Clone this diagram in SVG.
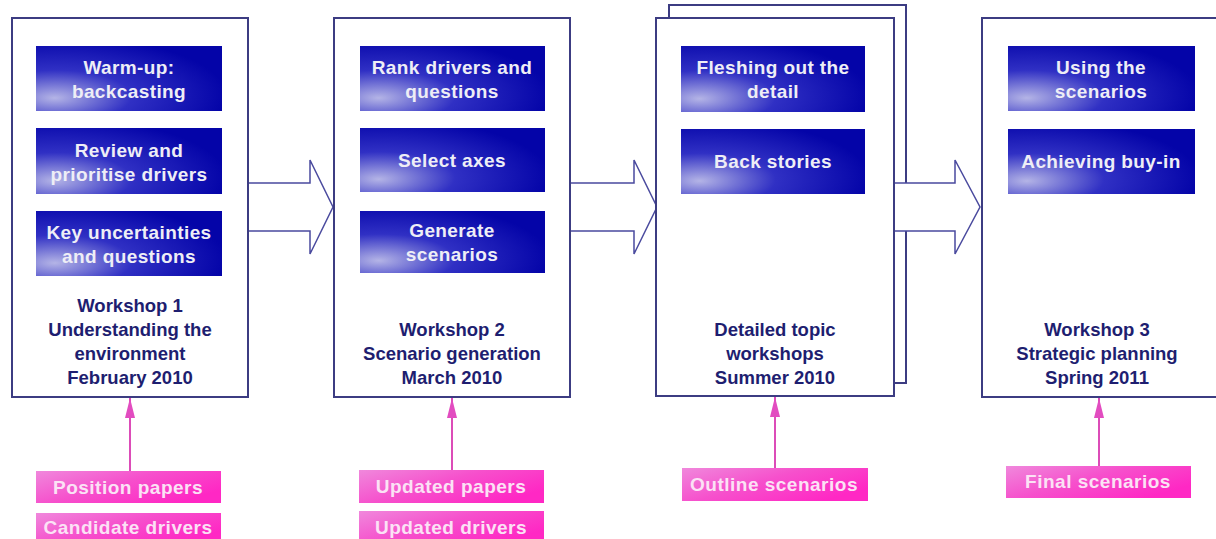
<svg xmlns="http://www.w3.org/2000/svg" width="1216" height="539" viewBox="0 0 1216 539">
<defs>
<radialGradient id="gBlue" cx="0.12" cy="0.75" r="0.9" fx="0.1" fy="0.8">
<stop offset="0" stop-color="#b4b4e6"/>
<stop offset="0.45" stop-color="#3030c4"/>
<stop offset="1" stop-color="#0404a8"/>
</radialGradient>
<linearGradient id="gPink" x1="0" y1="0" x2="1" y2="0.6">
<stop offset="0" stop-color="#f088dc"/>
<stop offset="0.5" stop-color="#f650cc"/>
<stop offset="1" stop-color="#ff28c4"/>
</linearGradient>
<marker id="ph" viewBox="0 0 20 10" refX="20" refY="5" markerWidth="20" markerHeight="10" markerUnits="userSpaceOnUse" orient="auto">
<path d="M0,0 L20,5 L0,10 Z" fill="#e24cc0"/>
</marker>
</defs>
<style>
.frame{fill:#ffffff;stroke:#3c3c82;stroke-width:2}
.blue{fill:url(#gBlue)}
.pink{fill:url(#gPink)}
.bt{font-family:"Liberation Sans",Arial,sans-serif;font-weight:bold;font-size:19px;fill:#eeeef6;text-anchor:middle;letter-spacing:0.4px}
.pt{font-family:"Liberation Sans",Arial,sans-serif;font-weight:bold;font-size:19px;fill:#fbe2f5;text-anchor:middle;letter-spacing:0.5px}
.lt{font-family:"Liberation Sans",Arial,sans-serif;font-weight:bold;font-size:18.5px;fill:#1e1e70;text-anchor:middle}
.arr{fill:#ffffff;stroke:#4a4a9e;stroke-width:1.5}
.pl{stroke:#dc4cb8;stroke-width:2;fill:none}
</style>
<rect width="1216" height="539" fill="#ffffff"/>

<g id="workshop3-back">
<rect class="frame" x="669" y="5" width="237" height="378"/>
</g>

<g id="connectors">
<polyline class="arr" points="248,183 310,183 310,160 333,207 310,254 310,231 248,231"/>
<polyline class="arr" points="570,183 634,183 634,160 657,207 634,254 634,231 570,231"/>
<polyline class="arr" points="894,183 955,183 955,160 980,207 955,254 955,231 894,231"/>
<line class="pl" x1="130" y1="471" x2="130" y2="398" marker-end="url(#ph)"/>
<line class="pl" x1="452" y1="470" x2="452" y2="398" marker-end="url(#ph)"/>
<line class="pl" x1="775" y1="468" x2="775" y2="397" marker-end="url(#ph)"/>
<line class="pl" x1="1099" y1="466" x2="1099" y2="398" marker-end="url(#ph)"/>
</g>

<g id="workshop1">
<rect class="frame" x="12" y="18" width="236" height="379"/>
<rect class="blue" x="36" y="46" width="186" height="65"/>
<text class="bt" x="129" y="74">Warm-up:</text>
<text class="bt" x="129" y="98">backcasting</text>
<rect class="blue" x="36" y="128" width="186" height="66"/>
<text class="bt" x="129" y="157">Review and</text>
<text class="bt" x="129" y="181">prioritise drivers</text>
<rect class="blue" x="36" y="211" width="186" height="65"/>
<text class="bt" x="129" y="239">Key uncertainties</text>
<text class="bt" x="129" y="263">and questions</text>
<text class="lt" x="130" y="312">Workshop 1</text>
<text class="lt" x="130" y="336">Understanding the</text>
<text class="lt" x="130" y="360">environment</text>
<text class="lt" x="130" y="384">February 2010</text>
</g>

<g id="workshop2">
<rect class="frame" x="334" y="18" width="236" height="379"/>
<rect class="blue" x="360" y="46" width="185" height="65"/>
<text class="bt" x="452" y="74">Rank drivers and</text>
<text class="bt" x="452" y="98">questions</text>
<rect class="blue" x="360" y="128" width="185" height="64"/>
<text class="bt" x="452" y="167">Select axes</text>
<rect class="blue" x="360" y="211" width="185" height="62"/>
<text class="bt" x="452" y="237">Generate</text>
<text class="bt" x="452" y="261">scenarios</text>
<text class="lt" x="452" y="336">Workshop 2</text>
<text class="lt" x="452" y="360">Scenario generation</text>
<text class="lt" x="452" y="384">March 2010</text>
</g>

<g id="topic-workshops">
<rect class="frame" x="656" y="18" width="238" height="378"/>
<rect class="blue" x="681" y="46" width="184" height="66"/>
<text class="bt" x="773" y="74">Fleshing out the</text>
<text class="bt" x="773" y="98">detail</text>
<rect class="blue" x="681" y="129" width="184" height="65"/>
<text class="bt" x="773" y="168">Back stories</text>
<text class="lt" x="775" y="336">Detailed topic</text>
<text class="lt" x="775" y="360">workshops</text>
<text class="lt" x="775" y="384">Summer 2010</text>
</g>

<g id="workshop3">
<rect class="frame" x="982" y="18" width="240" height="379"/>
<rect class="blue" x="1008" y="46" width="187" height="65"/>
<text class="bt" x="1101" y="74">Using the</text>
<text class="bt" x="1101" y="98">scenarios</text>
<rect class="blue" x="1008" y="129" width="187" height="65"/>
<text class="bt" x="1101" y="168">Achieving buy-in</text>
<text class="lt" x="1097" y="336">Workshop 3</text>
<text class="lt" x="1097" y="360">Strategic planning</text>
<text class="lt" x="1097" y="384">Spring 2011</text>
</g>

<g id="inputs1">
<rect class="pink" x="36" y="471" width="185" height="32"/>
<text class="pt" x="128" y="494">Position papers</text>
<rect class="pink" x="36" y="513" width="185" height="30"/>
<text class="pt" x="128" y="534">Candidate drivers</text>
</g>
<g id="inputs2">
<rect class="pink" x="359" y="470" width="185" height="33"/>
<text class="pt" x="451" y="493">Updated papers</text>
<rect class="pink" x="359" y="511" width="185" height="32"/>
<text class="pt" x="451" y="534">Updated drivers</text>
</g>
<g id="inputs3">
<rect class="pink" x="682" y="468" width="186" height="33"/>
<text class="pt" x="774" y="491">Outline scenarios</text>
</g>
<g id="inputs4">
<rect class="pink" x="1006" y="466" width="185" height="32"/>
<text class="pt" x="1098" y="488">Final scenarios</text>
</g>
</svg>
